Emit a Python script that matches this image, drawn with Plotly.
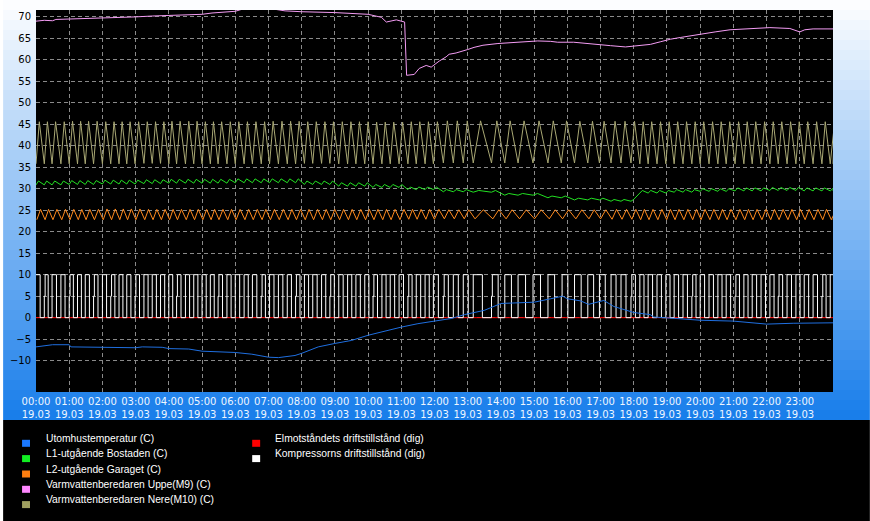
import plotly.graph_objects as go

# ---------------- data ----------------
hours = list(range(24))
tick_text = [f"{h:02d}:00<br>19.03" for h in hours]
y_ticks = list(range(-10, 75, 5))

series_names = [
    "Utomhustemperatur (C)",
    "L1-utgående Bostaden (C)",
    "L2-utgående Garaget (C)",
    "Varmvattenberedaren Uppe(M9) (C)",
    "Varmvattenberedaren Nere(M10) (C)",
    "Elmotståndets driftstillstånd (dig)",
    "Kompressorns driftstillstånd (dig)",
]
series_colors = ["#1f6fe0", "#22e022", "#ff8a1e", "#f49cf4", "#a9a874", "#ff0000", "#ffffff"]
legend_colors = ["#1a78ff", "#11ee22", "#ff7f10", "#ff88ff", "#a0a060", "#ff0000", "#ffffff"]

# Utomhustemperatur: time (h) / value
ute_t = [0.0, 0.2, 0.5, 1.0, 1.05, 2.0, 2.5, 3.0, 3.2, 3.8, 4.0, 4.6, 5.0, 5.5, 6.0, 6.5,
         7.0, 7.3, 7.8, 8.0, 8.5, 9.0, 9.5, 10.0, 10.5, 11.0, 11.5, 12.0, 12.5, 12.9, 13.5, 14.0, 15.0,
         15.5, 15.86, 16.0, 16.4, 16.64, 17.1, 17.4, 18.0, 18.5, 18.6, 19.3, 20.0, 21.0, 21.5, 22.0,
         22.8, 24.0]
ute_v = [-6.8, -6.6, -6.3, -6.3, -6.8, -6.9, -7.0, -7.0, -6.8, -6.9, -7.2, -7.3, -7.8, -8.0,
         -8.1, -8.5, -9.2, -9.3, -8.8, -8.3, -6.8, -6.0, -5.3, -4.1, -3.1, -2.2, -1.4, -0.8, -0.2, 0.7,
         1.7, 3.3, 3.6, 4.4, 5.0, 4.4, 3.9, 3.1, 4.0, 2.6, 1.2, 0.7, 0.15, -0.2, -0.6, -0.8, -1.2, -1.5,
         -1.3, -1.2]

# Varmvattenberedaren Uppe (M9): time (h) / value
uppe_t = [0.0, 0.25, 0.5, 0.6, 1.0, 1.5, 2.0, 2.3, 3.0, 3.5, 4.0, 4.5, 5.0, 5.3, 5.6, 6.0, 6.3,
          7.0, 7.5, 8.0, 9.0, 10.0, 10.4, 10.55, 10.85, 11.1, 11.16, 11.39, 11.54, 11.75, 11.9,
          12.14, 12.35, 12.44, 12.65, 12.8, 13.0, 13.19, 13.46, 13.91, 14.39, 15.11, 15.5, 15.71,
          16.19, 16.7, 17.3, 17.75, 18.5, 18.8, 19.1, 19.4, 19.7, 20.0, 20.45, 20.9, 21.5, 22.1,
          22.7, 23.0, 23.15, 23.4, 24.0]
uppe_v = [69.0, 69.2, 69.1, 69.4, 69.5, 69.6, 69.8, 69.9, 70.0, 70.2, 70.3, 70.4, 70.6, 70.9, 71.0,
          71.3, 72.0, 72.0, 71.4, 71.2, 71.0, 70.6, 69.9, 68.8, 69.3, 68.8, 56.4, 56.6, 58.0, 58.7,
          58.3, 59.7, 60.7, 61.3, 61.6, 61.9, 62.4, 62.9, 63.4, 63.8, 64.1, 64.4, 64.3, 64.1, 64.1,
          63.8, 63.3, 63.0, 63.6, 64.2, 64.8, 65.2, 65.6, 66.0, 66.5, 67.0, 67.3, 67.5, 67.3, 66.5,
          67.0, 67.2, 67.2]

# compressor cycle lengths (minutes), one per cycle
cycle_min = [15, 14, 16, 15, 15, 14, 15, 16, 15, 15, 14, 15, 16, 15, 15, 15, 14, 16, 15, 15, 15, 14, 16, 15,
             16, 15, 16, 15, 16, 16, 15, 16, 15, 16, 15, 16, 16, 15, 16, 15, 16, 15, 16, 16, 15, 16, 15,
             18, 18, 18, 18, 33, 24, 24, 27, 27, 24, 24, 24, 21, 21, 18, 18,
             16, 15, 16, 16, 15, 16, 16, 15, 16, 16, 15, 16, 16, 15, 16, 16, 15, 16, 16, 15, 16, 16, 15, 20]
# cycles where the compressor signal shows an intermediate 5-step
komp_half = [1, 4, 7, 9, 12, 17, 22, 27, 31, 35, 40, 44, 48, 52, 57, 63, 70, 75, 80, 85]

# per-hour levels of the oscillating signals
nere_hi = [45.6, 45.7, 45.6, 45.6, 45.7, 45.6, 45.6, 45.7, 45.6, 45.6, 45.5, 45.6,
           45.8, 45.8, 45.8, 45.8, 45.7, 45.7, 45.6, 45.6, 45.6, 45.6, 45.6, 45.6]
nere_lo = [35.8, 35.8, 35.8, 35.9, 35.8, 35.8, 35.8, 35.8, 35.9, 35.8, 35.8, 35.8,
           36.0, 36.0, 36.0, 36.0, 36.0, 36.0, 35.8, 35.8, 35.8, 35.8, 35.8, 35.8]
garage_hi = [25.2, 25.2, 25.3, 25.2, 25.2, 25.2, 25.2, 25.2, 25.2, 25.2, 25.2, 25.2,
             25.1, 25.1, 25.1, 25.1, 25.1, 25.2, 25.2, 25.2, 25.2, 25.2, 25.2, 25.2]
garage_lo = [22.8, 22.8, 22.8, 22.8, 22.8, 22.8, 22.8, 22.8, 22.8, 22.8, 22.8, 22.9,
             23.0, 23.0, 23.0, 23.0, 23.0, 22.9, 22.8, 22.8, 22.8, 22.8, 22.8, 22.8]
bostad_lo = [30.9, 31.0, 31.1, 31.2, 31.3, 31.3, 31.4, 31.4, 31.0, 30.6, 30.3, 29.8,
             29.3, 29.2, 28.5, 27.9, 27.4, 27.1, 29.0, 29.2, 29.4, 29.5, 29.6, 29.5]
bostad_amp = [0.9, 0.9, 0.9, 0.9, 0.9, 0.9, 0.9, 0.9, 0.8, 0.8, 0.7, 0.6,
              0.5, 0.4, 0.4, 0.4, 0.4, 0.4, 0.6, 0.6, 0.6, 0.7, 0.7, 0.7]

elmot_t = [0.0, 24.0]
elmot_v = [0.0, 0.0]

# ---------------- build the cycle-driven traces ----------------
starts = []
acc = 0
for L in cycle_min:
    starts.append(acc)
    acc += L

komp_x, komp_y = [], []
nere_x, nere_y = [], []
gar_x, gar_y = [], []
bos_x, bos_y = [], []
for i, (s, L) in enumerate(zip(starts, cycle_min)):
    h = min(int(s // 60), 23)
    if i in komp_half:
        komp_x += [s / 60, (s + 1.5) / 60, (s + 0.5 * L) / 60]
        komp_y += [5, 10, 0]
    else:
        komp_x += [s / 60, (s + 0.5 * L) / 60]
        komp_y += [10, 0]
    nere_x += [s / 60, (s + 0.4 * L) / 60]
    nere_y += [nere_lo[h], nere_hi[h]]
    gar_x += [(s + 0.1 * L) / 60, (s + 0.55 * L) / 60]
    gar_y += [garage_lo[h], garage_hi[h]]
    bos_x += [s / 60, (s + 0.3 * L) / 60]
    bos_y += [bostad_lo[h], bostad_lo[h] + bostad_amp[h]]
komp_x.append(24.0); komp_y.append(0)
nere_x.append(24.0); nere_y.append(nere_lo[23])
gar_x.append(24.0); gar_y.append(garage_lo[23])
bos_x.append(24.0); bos_y.append(bostad_lo[23])

# ---------------- figure ----------------
W, H = 870, 521
ML, MR, MT, MB = 33, 37, 10, 129
PW, PH = W - ML - MR, H - MT - MB


def px(X):
    return (X - ML) / PW


def py(Y):
    return (H - MB - Y) / PH


fig = go.Figure()


def add_line(x, y, color, shape="linear"):
    fig.add_trace(go.Scatter(x=x, y=y, mode="lines", line=dict(color=color, width=1, shape=shape),
                             hoverinfo="skip", showlegend=False))


add_line(elmot_t, elmot_v, series_colors[5], "hv")
add_line(komp_x, komp_y, series_colors[6], "hv")
add_line(nere_x, nere_y, series_colors[4])
add_line(uppe_t, uppe_v, series_colors[3])
add_line(gar_x, gar_y, series_colors[2])
add_line(bos_x, bos_y, series_colors[1])
add_line(ute_t, ute_v, series_colors[0])

shapes = []
# background gradient (white at top -> blue at bottom)
n = 42
top_c = (255, 255, 255)
bot_c = (22, 124, 234)
for k in range(n):
    y0 = k * 10
    t = (k + 0.5) / n
    c = tuple(int(round(top_c[j] + (bot_c[j] - top_c[j]) * t)) for j in range(3))
    shapes.append(dict(type="rect", xref="paper", yref="paper", x0=px(0), x1=px(W),
                       y0=py(y0 + 10), y1=py(y0), fillcolor="rgb(%d,%d,%d)" % c,
                       line=dict(width=0), layer="below"))
# plot area
shapes.append(dict(type="rect", xref="paper", yref="paper", x0=0, x1=1, y0=0, y1=1,
                   fillcolor="black", line=dict(width=0), layer="below"))
# legend panel
shapes.append(dict(type="rect", xref="paper", yref="paper", x0=px(0), x1=px(W),
                   y0=py(H), y1=py(420), fillcolor="black", line=dict(width=0), layer="below"))

annotations = []
col_x_sq = [19, 250]
col_x_tx = [41, 271]
row_text_y = [438.3, 453.6, 469.0, 484.3, 499.6]
for i, name in enumerate(series_names):
    col = 0 if i < 5 else 1
    row = i if i < 5 else i - 5
    ty = row_text_y[row]
    sy = ty + 5.0
    sx = col_x_sq[col]
    shapes.append(dict(type="rect", xref="paper", yref="paper", x0=px(sx), x1=px(sx + 8),
                       y0=py(sy + 3.5), y1=py(sy - 3.5), fillcolor=legend_colors[i],
                       line=dict(width=0), layer="above"))
    annotations.append(dict(xref="paper", yref="paper", x=px(col_x_tx[col]), y=py(ty),
                            text=name, showarrow=False, xanchor="left", yanchor="middle",
                            font=dict(family="Liberation Sans, Arial", size=10.3,
                                      color="white")))

fig.update_layout(
    width=W, height=H,
    margin=dict(l=ML, r=MR, t=MT, b=MB, pad=0),
    paper_bgcolor="white",
    plot_bgcolor="black",
    shapes=shapes,
    annotations=annotations,
    showlegend=False,
    xaxis=dict(range=[0, 24], tickvals=hours, ticktext=tick_text, showgrid=True,
               gridcolor="#8a8a8a", griddash="4px,3px", gridwidth=1, zeroline=False,
               showline=False, ticks="", ticklabelstandoff=2,
               tickfont=dict(family="DejaVu Sans", size=10, color="#eef6ff")),
    yaxis=dict(range=[-17.3, 71.6], tickvals=y_ticks, showgrid=True,
               gridcolor="#8a8a8a", griddash="4px,3px", gridwidth=1, zeroline=False,
               showline=False, ticks="", ticklabelstandoff=4,
               tickfont=dict(family="DejaVu Sans", size=10, color="black")),
)

fig.write_html("out.html", config={"displayModeBar": False},
               post_script="document.body.style.margin='0';document.body.style.padding='0';")
